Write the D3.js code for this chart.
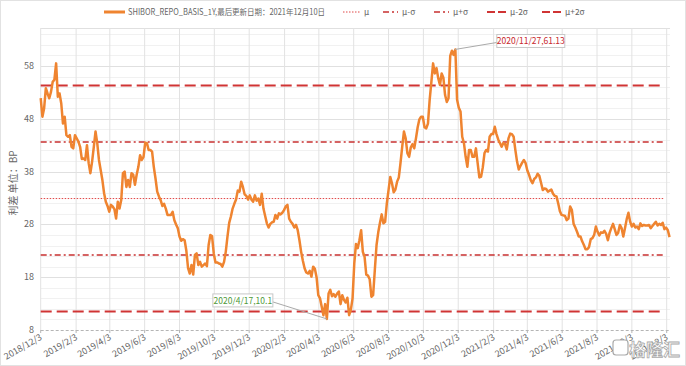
<!DOCTYPE html>
<html>
<head>
<meta charset="utf-8">
<script src="https://cdn.jsdelivr.net/npm/d3@7"></script>
<style>
  body { margin: 0; background: #fff; }
  text { font-family: "Noto Sans CJK SC", "Noto Sans", sans-serif; }
</style>
</head>
<body>
<svg id="chart" width="686" height="366"></svg>
<script>
// series: one reading every 3 days from the start date
const startDate = "2018/12/3";
const stepDays = 3;
const basisValues = [
  51.9, 48.4, 50.0, 53.8, 52.8, 51.9, 53.1, 55.0, 55.4, 58.5,
  52.2, 52.8, 50.9, 47.1, 48.4, 44.9, 44.6, 44.9, 42.7, 42.4,
  44.9, 44.3, 43.7, 42.7, 40.4, 40.5, 40.2, 43.0, 39.6, 37.7,
  39.9, 42.7, 45.6, 43.4, 40.2, 38.3, 36.4, 33.9, 32.3, 31.5,
  30.4, 31.7, 31.4, 30.9, 29.1, 32.3, 31.0, 32.6, 37.7, 38.0,
  35.1, 36.4, 35.1, 37.7, 37.4, 35.5, 37.4, 38.9, 41.1, 40.2,
  40.8, 43.5, 43.4, 42.1, 42.1, 41.8, 38.9, 36.7, 34.2, 33.3,
  32.6, 31.5, 31.9, 31.0, 29.8,
  29.8, 29.8, 30.4, 28.8, 28.0, 27.3, 25.7, 24.9, 25.2, 25.0,
  23.0, 19.7, 18.7, 20.3, 18.5, 22.2, 22.5, 20.3, 20.9, 20.0,
  20.3, 20.6, 20.1, 24.1, 26.0, 25.8, 22.5, 20.8, 20.8, 20.6,
  20.5, 20.0, 20.9, 22.8, 25.7, 28.3, 29.5, 31.0, 31.9, 32.7,
  34.4, 34.2, 36.1, 35.1, 33.7, 33.4, 32.7, 33.5, 32.7, 32.3,
  33.5, 32.5, 32.9, 31.7, 33.8, 31.0, 29.6, 28.2, 27.4, 28.1,
  28.4, 28.5, 29.8, 29.1, 30.1, 29.9, 30.2, 30.7, 31.4, 31.7,
  29.1, 28.5, 28.1, 27.4,
  27.9, 26.9, 25.0, 22.8, 21.1, 19.7, 18.9, 18.7, 19.2, 18.1,
  20.0, 19.6, 18.0, 14.6, 14.0, 12.4, 10.8, 12.9, 10.1, 14.9,
  15.6, 14.4, 14.8, 14.3, 14.9, 15.3, 12.9, 14.6, 13.7, 13.2,
  14.1, 10.8, 11.8, 14.0, 20.6, 24.3, 23.5, 25.0, 26.9, 22.8,
  21.9, 18.5, 18.3, 17.6, 14.3, 14.6, 19.4, 24.1, 26.5, 28.3,
  29.9, 28.2, 28.5, 32.0, 34.5, 37.0, 35.8, 34.1, 34.6, 36.1,
  36.9, 39.7, 42.8, 45.6, 44.3, 41.5, 40.8, 42.6, 43.2, 42.4,
  44.3, 46.4, 47.9, 48.4,
  48.4, 46.4, 46.2, 47.1, 51.6, 55.0, 58.5, 56.6, 57.6, 55.7,
  54.4, 56.6, 55.8, 52.5, 51.2, 51.9, 59.9, 60.9, 60.1, 61.13,
  51.6, 50.1, 49.4, 44.6, 43.4, 40.8, 38.9, 42.1, 42.1, 40.8,
  40.8, 42.4, 39.6, 36.9, 37.0, 38.8, 41.5, 42.1, 41.8, 44.6,
  45.1, 45.1, 46.5, 45.1, 44.1, 43.4, 42.7, 43.4, 43.2, 42.2,
  44.3, 45.2, 45.1, 44.6, 42.1, 39.9, 38.4, 39.1, 39.7, 40.2,
  39.6, 38.2, 37.4, 36.4, 35.8, 36.6, 36.9, 37.6, 37.2, 35.9,
  34.5, 34.8, 34.7, 34.2,
  34.4, 34.6, 33.8, 33.4, 33.3, 32.0, 30.5, 29.8, 29.7, 29.6,
  28.8, 29.1, 31.4, 30.7, 28.1, 27.4, 26.6, 25.7, 25.7, 24.8,
  24.1, 23.3, 23.3, 23.7, 25.2, 25.4, 26.0, 27.6, 26.6, 25.9,
  26.5, 26.4, 26.8, 26.2, 25.0, 26.4, 27.3, 28.1, 27.1, 26.0,
  26.4, 27.9, 27.3, 25.7, 27.3, 29.0, 30.2, 28.5, 27.6, 28.1,
  27.4, 27.6, 27.1, 28.2, 27.7, 27.9, 27.8, 27.8, 27.9, 27.3,
  27.7, 28.1, 28.5, 27.8, 28.1, 27.9, 28.3, 27.1, 27.4, 26.9,
  25.6
];
const endDate = "2021/12/10";

// reference lines (mean and std bands)
const refNames = ["μ", "μ-σ", "μ+σ", "μ-2σ", "μ+2σ"];
const refValues = [32.9, 22.2, 43.6, 11.5, 54.3];
const refEnd = "2021/11/29";

// annotated points
const annoDates = ["2020/11/27", "2020/4/17"];
const annoValues = [61.13, 10.1];

const xTickLabels = ["2018/12/3", "2019/2/3", "2019/4/3", "2019/6/3", "2019/8/3", "2019/10/3",
  "2019/12/3", "2020/2/3", "2020/4/3", "2020/6/3", "2020/8/3", "2020/10/3", "2020/12/3",
  "2021/2/3", "2021/4/3", "2021/6/3", "2021/8/3", "2021/10/3", "2021/12/3"];
const yTicks = [8, 18, 28, 38, 48, 58];

const parseDate = d3.timeParse("%Y/%m/%d");
const start = parseDate(startDate);
const series = basisValues.map((v, i) => ({ date: d3.timeDay.offset(start, i * stepDays), value: v }));

let svg = d3.select("#chart");
const plotLeft = 40.7, plotTop = 28, plotBottom = 330, plotRight = 670;

let x = d3.scaleTime()
  .domain([start, parseDate(endDate)])
  .range([plotLeft, 670.7]);
let y = d3.scaleLinear()
  .domain([8, 65.2])
  .range([plotBottom, plotTop]);

// outer frame
svg.append("rect")
  .attr("x", 0.5).attr("y", 0.5).attr("width", 685).attr("height", 365)
  .attr("fill", "#fff").attr("stroke", "#e2e2e2");

// minor + major horizontal grid
svg.append("g").selectAll("line")
  .data(d3.range(10, 65, 2).filter(v => (v - 8) % 10 !== 0))
  .join("line")
  .attr("x1", plotLeft).attr("x2", plotRight)
  .attr("y1", d => Math.round(y(d)) + 0.5).attr("y2", d => Math.round(y(d)) + 0.5)
  .attr("stroke", "#f1f1f1");
svg.append("g").selectAll("line")
  .data(yTicks.slice(1))
  .join("line")
  .attr("x1", plotLeft).attr("x2", plotRight)
  .attr("y1", d => Math.round(y(d)) + 0.5).attr("y2", d => Math.round(y(d)) + 0.5)
  .attr("stroke", "#e0e0e0").attr("stroke-width", 1.2);

// top border
svg.append("line")
  .attr("x1", plotLeft).attr("x2", plotRight).attr("y1", plotTop + 0.5).attr("y2", plotTop + 0.5)
  .attr("stroke", "#e0e0e0");

// vertical grid at tick dates
const tickDates = xTickLabels.map(parseDate);
svg.append("g").selectAll("line")
  .data(tickDates)
  .join("line")
  .attr("x1", d => x(d)).attr("x2", d => x(d))
  .attr("y1", plotTop).attr("y2", plotBottom)
  .attr("stroke", "#e2e2e2");

// bottom axis: dashed line with ticks
svg.append("line")
  .attr("x1", plotLeft).attr("x2", plotRight).attr("y1", plotBottom + 0.5).attr("y2", plotBottom + 0.5)
  .attr("stroke", "#b5b5b5").attr("stroke-dasharray", "3,2");
svg.append("g").selectAll("line")
  .data(tickDates)
  .join("line")
  .attr("x1", d => x(d)).attr("x2", d => x(d))
  .attr("y1", plotBottom).attr("y2", plotBottom + 3)
  .attr("stroke", "#b5b5b5");

svg.append("g").selectAll("text")
  .data(xTickLabels)
  .join("text")
  .attr("transform", d => `translate(${x(parseDate(d)) + 2},${plotBottom + 9}) rotate(-30)`)
  .attr("text-anchor", "end")
  .attr("font-size", 9)
  .attr("fill", "#666")
  .text(d => d);

// y labels
svg.append("g").selectAll("text")
  .data(yTicks)
  .join("text")
  .attr("x", 34).attr("y", d => y(d) + 3)
  .attr("text-anchor", "end")
  .attr("font-size", 9)
  .attr("fill", "#666")
  .text(d => d);

svg.append("text")
  .attr("transform", `translate(17,${(plotTop + plotBottom) / 2 + 4}) rotate(-90)`)
  .attr("text-anchor", "middle")
  .attr("font-size", 10)
  .attr("fill", "#666")
  .text("利差 单位：BP");

// styles for reference lines
const refStyle = [
  { dash: "1.5,1.5", width: 1, color: "#e04848" },
  { dash: "6,3,2,3", width: 1.5, color: "#c83030" },
  { dash: "6,3,2,3", width: 1.5, color: "#c83030" },
  { dash: "11,5", width: 2, color: "#d03434" },
  { dash: "11,5", width: 2, color: "#d03434" }
];

svg.append("g").selectAll("line")
  .data(refValues)
  .join("line")
  .attr("x1", plotLeft).attr("x2", x(parseDate(refEnd)))
  .attr("y1", d => y(d)).attr("y2", d => y(d))
  .attr("stroke", (d, i) => refStyle[i].color)
  .attr("stroke-width", (d, i) => refStyle[i].width)
  .attr("stroke-dasharray", (d, i) => refStyle[i].dash);

// main line
let line = d3.line()
  .x(d => x(d.date))
  .y(d => y(d.value));

svg.append("path")
  .datum(series)
  .attr("fill", "none")
  .attr("stroke", "#ef8430")
  .attr("stroke-width", 2.5)
  .attr("stroke-linejoin", "round")
  .attr("d", line);

// annotations
const annoStyle = [
  { dx: 42, dy: -15, w: 68, color: "#c8282d" },
  { dx: -114, dy: -25, w: 60, color: "#4f9a3a" }
];
annoDates.forEach((d, i) => {
  const px = x(parseDate(d)), py = y(annoValues[i]);
  const s = annoStyle[i];
  const bx = px + s.dx, by = py + s.dy;
  const label = d + "," + annoValues[i];
  const ax = i === 0 ? bx : bx + s.w;
  svg.append("line")
    .attr("x1", px).attr("y1", py).attr("x2", ax).attr("y2", by + 8)
    .attr("stroke", "#aaa").attr("stroke-width", 1);
  svg.append("rect")
    .attr("x", bx).attr("y", by).attr("width", s.w).attr("height", 13)
    .attr("fill", "#fff").attr("stroke", "#c8c8c8");
  svg.append("text")
    .attr("x", bx + s.w / 2).attr("y", by + 9.8)
    .attr("text-anchor", "middle")
    .attr("font-size", 8.5)
    .attr("fill", s.color)
    .text(label);
});

// legend
const legend = svg.append("g").attr("font-size", 8.4).attr("fill", "#666");
legend.append("line")
  .attr("x1", 104).attr("x2", 125).attr("y1", 12).attr("y2", 12)
  .attr("stroke", "#ef8430").attr("stroke-width", 3);
legend.append("text")
  .attr("x", 128).attr("y", 15)
  .attr("textLength", 197)
  .attr("lengthAdjust", "spacingAndGlyphs")
  .text("SHIBOR_REPO_BASIS_1Y,最后更新日期：2021年12月10日");

const legendX = [343, 383, 434, 487, 542];
const legendW = [17, 15, 15, 19, 19];
refNames.forEach((n, i) => {
  legend.append("line")
    .attr("x1", legendX[i]).attr("x2", legendX[i] + legendW[i])
    .attr("y1", 12).attr("y2", 12)
    .attr("stroke", refStyle[i].color)
    .attr("stroke-width", refStyle[i].width)
    .attr("stroke-dasharray", i >= 3 ? "8,3" : refStyle[i].dash);
  legend.append("text")
    .attr("x", legendX[i] + legendW[i] + 4).attr("y", 15)
    .text(n);
});

// watermark
svg.append("text")
  .attr("x", 680).attr("y", 356)
  .attr("text-anchor", "end")
  .attr("font-size", 17)
  .attr("font-weight", "bold")
  .attr("fill", "#fff")
  .attr("stroke", "#aaa")
  .attr("stroke-width", 0.8)
  .text("格隆汇");
svg.append("rect")
  .attr("x", 613).attr("y", 340).attr("width", 15).attr("height", 15).attr("rx", 3)
  .attr("fill", "#fff").attr("stroke", "#aaa").attr("stroke-width", 1.2);
</script>
</body>
</html>
